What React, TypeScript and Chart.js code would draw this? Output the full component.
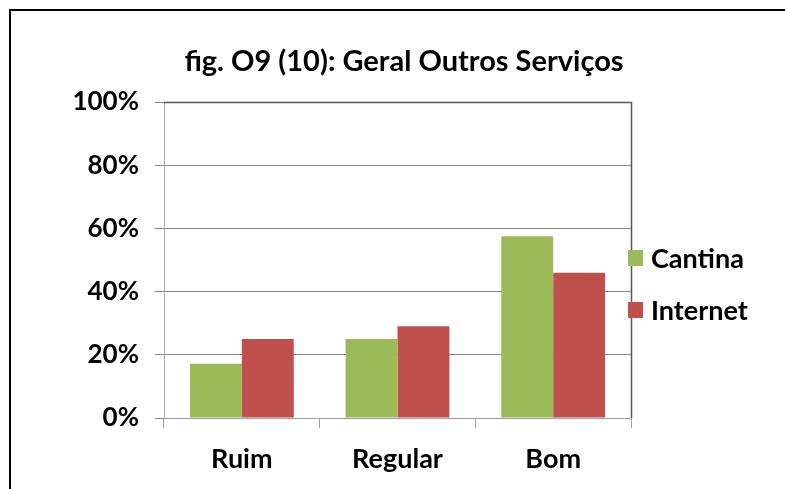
import React, { useEffect, useRef } from "react";
import { Chart, registerables } from "chart.js";

Chart.register(...registerables);

const categories = ["Ruim", "Regular", "Bom"];
const cantina = [17.2, 25, 57.5];
const internet = [25, 29, 46];
const seriesNames = ["Cantina", "Internet"];
const seriesColors = ["#9BBB59", "#C0504D"];
const titleText = "fig. O9 (10): Geral Outros Serviços";

const FONT = "Lato, 'Open Sans', sans-serif";

const frameAndLegend = {
  id: "frameAndLegend",
  afterDatasetsDraw(chart: any) {
    const { ctx, chartArea } = chart;
    ctx.save();
    ctx.strokeStyle = "#595959";
    ctx.lineWidth = 1.5;
    ctx.beginPath();
    ctx.moveTo(chartArea.left, chartArea.top + 0.5);
    ctx.lineTo(chartArea.right + 0.5, chartArea.top + 0.5);
    ctx.lineTo(chartArea.right + 0.5, chartArea.bottom);
    ctx.stroke();
    // title
    ctx.fillStyle = "#000";
    ctx.font = `bold 29px ${FONT}`;
    ctx.textAlign = "center";
    ctx.textBaseline = "middle";
    ctx.fillText(titleText, 404, chartArea.top - 40);
    // legend
    const x0 = chartArea.right - 3;
    chart.data.datasets.forEach((ds: any, i: number) => {
      const cy = chartArea.top + 156 + i * 52;
      ctx.fillStyle = ds.backgroundColor;
      ctx.fillRect(x0, cy - 8, 15, 16);
      ctx.fillStyle = "#000";
      ctx.font = `bold 27px ${FONT}`;
      ctx.textBaseline = "middle";
      ctx.textAlign = "left";
      ctx.fillText(ds.label, x0 + 23, cy + 1);
    });
    ctx.restore();
  },
};

export default function App() {
  const ref = useRef<HTMLCanvasElement>(null);
  useEffect(() => {
    if (!ref.current) return;
    const chart = new Chart(ref.current, {
      type: "bar",
      data: {
        labels: categories,
        datasets: [
          { label: seriesNames[0], data: cantina, backgroundColor: seriesColors[0] },
          { label: seriesNames[1], data: internet, backgroundColor: seriesColors[1] },
        ],
      },
      options: {
        animation: false,
        responsive: false,
        maintainAspectRatio: false,
        layout: { padding: { left: 0, right: 154, top: 102, bottom: 0 } },
        datasets: { bar: { categoryPercentage: 0.667, barPercentage: 1.0 } },
        plugins: {
          legend: { display: false },
          tooltip: { enabled: false },
          title: { display: false },
        },
        scales: {
          x: {
            grid: {
              display: true,
              drawOnChartArea: false,
              drawTicks: true,
              tickLength: 10,
              color: "#A0A0A0",
              offset: true,
            },
            border: { display: true, color: "#A0A0A0", width: 1 },
            ticks: {
              color: "#000",
              font: { family: FONT, size: 27, weight: "bold" },
              padding: 15,
            },
            afterFit: (s: any) => {
              s.height = 71;
            },
          },
          y: {
            min: 0,
            max: 100,
            ticks: {
              stepSize: 20,
              color: "#000",
              font: { family: FONT, size: 26, weight: "bold" },
              padding: 16,
              callback: (v: any) => `${v}%`,
            },
            grid: {
              color: "#878787",
              tickLength: 9,
              drawTicks: true,
            },
            border: { display: true, color: "#A8A8A8", width: 1 },
            afterFit: (s: any) => {
              s.width = 164;
            },
          },
        },
      },
      plugins: [frameAndLegend],
    });
    return () => chart.destroy();
  }, []);
  return (
    <div style={{ position: "absolute", left: 0, top: 0, width: 785, height: 489, background: "#fff", overflow: "hidden" }}>
      <canvas ref={ref} width={785} height={489} style={{ position: "absolute", left: 0, top: 0 }} />
      <div
        style={{
          position: "absolute",
          left: 9,
          top: 9,
          width: 820,
          height: 520,
          borderTop: "2px solid #000",
          borderLeft: "2px solid #000",
          boxSizing: "border-box",
          pointerEvents: "none",
        }}
      />
    </div>
  );
}
